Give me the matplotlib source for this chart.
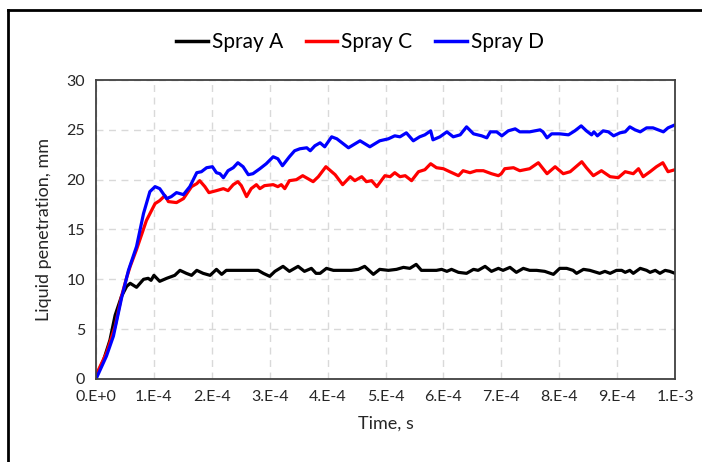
import numpy as np
import matplotlib.pyplot as plt
from matplotlib.lines import Line2D

plt.rcParams['font.family'] = ['Lato', 'DejaVu Sans']

# Spray A (time in units of 1e-4 s, penetration in mm)
t_a = [0, 0.13, 0.24, 0.33, 0.44, 0.53, 0.59, 0.70, 0.82, 0.90, 0.95, 1.0, 1.1, 1.22,
       1.36, 1.45, 1.56, 1.65, 1.74, 1.85, 1.97, 2.08, 2.17, 2.25, 2.37, 2.48, 2.60,
       2.68, 2.80, 2.89, 3.0, 3.09, 3.23, 3.34, 3.49, 3.60, 3.72, 3.80, 3.87, 3.98,
       4.10, 4.27, 4.41, 4.53, 4.64, 4.79, 4.90, 5.05, 5.19, 5.31, 5.42, 5.53, 5.62,
       5.77, 5.88, 5.97, 6.06, 6.14, 6.26, 6.40, 6.52, 6.60, 6.72, 6.83, 6.95, 7.03,
       7.15, 7.26, 7.38, 7.49, 7.61, 7.75, 7.90, 8.01, 8.13, 8.24, 8.30, 8.42, 8.53,
       8.70, 8.79, 8.88, 8.99, 9.08, 9.14, 9.22, 9.28, 9.40, 9.51, 9.57, 9.66, 9.74,
       9.83, 9.91, 10.0]
y_a = [0.2, 1.9, 3.9, 6.4, 8.3, 9.3, 9.6, 9.2, 10.0, 10.1, 9.9, 10.4, 9.8, 10.1,
       10.4, 10.9, 10.6, 10.4, 10.9, 10.6, 10.4, 11.0, 10.5, 10.9, 10.9, 10.9, 10.9,
       10.9, 10.9, 10.6, 10.3, 10.8, 11.3, 10.8, 11.3, 10.8, 11.1, 10.6, 10.6, 11.1,
       10.9, 10.9, 10.9, 11.0, 11.3, 10.5, 11.0, 10.9, 11.0, 11.2, 11.1, 11.5, 10.9,
       10.9, 10.9, 11.0, 10.8, 11.0, 10.7, 10.6, 11.0, 10.9, 11.3, 10.8, 11.1, 10.9,
       11.2, 10.7, 11.1, 10.9, 10.9, 10.8, 10.5, 11.1, 11.1, 10.9, 10.6, 11.0, 10.9,
       10.6, 10.8, 10.6, 10.9, 10.9, 10.7, 10.9, 10.6, 11.1, 10.9, 10.7, 10.9, 10.6,
       10.9, 10.8, 10.6]

# Spray C
t_c = [0, 0.18, 0.33, 0.44, 0.53, 0.59, 0.70, 0.87, 1.02, 1.10, 1.19, 1.25, 1.39,
       1.51, 1.65, 1.74, 1.79, 1.88, 1.95, 2.08, 2.20, 2.28, 2.37, 2.45, 2.51, 2.60,
       2.68, 2.77, 2.83, 2.91, 3.06, 3.14, 3.20, 3.26, 3.34, 3.46, 3.57, 3.66, 3.75,
       3.84, 3.97, 4.07, 4.13, 4.26, 4.39, 4.47, 4.59, 4.67, 4.76, 4.85, 4.99, 5.08,
       5.16, 5.25, 5.34, 5.45, 5.57, 5.68, 5.78, 5.88, 6.00, 6.11, 6.26, 6.34, 6.46,
       6.57, 6.69, 6.83, 6.95, 7.0, 7.06, 7.21, 7.32, 7.49, 7.64, 7.79, 7.93, 8.07,
       8.19, 8.27, 8.39, 8.47, 8.59, 8.73, 8.88, 9.02, 9.14, 9.28, 9.37, 9.45, 9.57,
       9.68, 9.79, 9.88, 10.0]
y_c = [0.4, 2.6, 5.3, 8.3, 10.2, 11.3, 13.0, 15.9, 17.6, 17.9, 18.4, 17.8, 17.7,
       18.1, 19.3, 19.6, 19.9, 19.3, 18.7, 18.9, 19.1, 18.9, 19.5, 19.8, 19.4, 18.3,
       19.1, 19.5, 19.1, 19.4, 19.5, 19.3, 19.5, 19.1, 19.9, 20.0, 20.4, 20.1, 19.8,
       20.3, 21.3, 20.8, 20.5, 19.5, 20.3, 19.9, 20.3, 19.8, 19.9, 19.3, 20.4, 20.3,
       20.7, 20.3, 20.4, 19.9, 20.8, 21.0, 21.6, 21.2, 21.1, 20.8, 20.4, 20.9, 20.7,
       20.9, 20.9, 20.6, 20.4, 20.6, 21.1, 21.2, 20.9, 21.1, 21.7, 20.6, 21.3, 20.6,
       20.8, 21.2, 21.8, 21.2, 20.4, 20.9, 20.3, 20.2, 20.8, 20.6, 21.1, 20.3, 20.8,
       21.3, 21.7, 20.8, 21.0]

# Spray D
t_d = [0, 0.18, 0.30, 0.44, 0.56, 0.70, 0.82, 0.93, 1.02, 1.10, 1.22, 1.30, 1.39,
       1.51, 1.62, 1.74, 1.82, 1.91, 2.01, 2.08, 2.14, 2.20, 2.28, 2.37, 2.45, 2.54,
       2.63, 2.71, 2.83, 2.94, 3.06, 3.14, 3.22, 3.34, 3.43, 3.52, 3.64, 3.70, 3.78,
       3.87, 3.95, 4.07, 4.16, 4.36, 4.56, 4.73, 4.90, 5.05, 5.16, 5.25, 5.36, 5.48,
       5.59, 5.68, 5.78, 5.82, 5.94, 6.06, 6.17, 6.29, 6.40, 6.52, 6.66, 6.75, 6.81,
       6.92, 7.01, 7.12, 7.24, 7.32, 7.49, 7.67, 7.72, 7.79, 7.87, 8.01, 8.16, 8.27,
       8.38, 8.47, 8.56, 8.60, 8.66, 8.76, 8.85, 8.94, 9.05, 9.14, 9.22, 9.31, 9.40,
       9.51, 9.62, 9.71, 9.80, 9.88, 10.0]
y_d = [0.0, 2.3, 4.3, 8.1, 10.9, 13.3, 16.6, 18.8, 19.3, 19.1, 18.1, 18.3, 18.7,
       18.5, 19.3, 20.7, 20.8, 21.2, 21.3, 20.7, 20.6, 20.2, 20.9, 21.2, 21.7, 21.3,
       20.5, 20.6, 21.1, 21.6, 22.3, 22.1, 21.4, 22.3, 22.9, 23.1, 23.2, 22.9, 23.4,
       23.7, 23.3, 24.3, 24.1, 23.2, 23.9, 23.3, 23.9, 24.1, 24.4, 24.3, 24.7, 23.9,
       24.3, 24.5, 24.9, 24.0, 24.3, 24.8, 24.3, 24.5, 25.3, 24.6, 24.4, 24.2, 24.8,
       24.8, 24.4, 24.9, 25.1, 24.8, 24.8, 25.0, 24.8, 24.2, 24.6, 24.6, 24.5, 24.9,
       25.4, 24.9, 24.5, 24.8, 24.4, 24.9, 24.8, 24.4, 24.7, 24.8, 25.3, 25.0, 24.8,
       25.2, 25.2, 25.0, 24.8, 25.2, 25.5]

labels = ['Spray A', 'Spray C', 'Spray D']
colors = ['black', 'red', 'blue']

fig = plt.figure(figsize=(7.02, 4.62), dpi=100)
ax = fig.add_axes([0.1368, 0.1797, 0.8247, 0.6471])

for t, y, c, lab in zip([t_a, t_c, t_d], [y_a, y_c, y_d], colors, labels):
    ax.plot(np.array(t) * 1e-4, y, color=c, lw=2.3, label=lab,
            solid_joinstyle='round', solid_capstyle='round')

ax.set_xlim(0, 1e-3)
ax.set_ylim(0, 30)
xt = np.arange(0, 11) * 1e-4
ax.set_xticks(xt)
ax.set_xticklabels(['0.E+0'] + [f'{i}.E-4' for i in range(1, 10)] + ['1.E-3'])
ax.set_yticks(np.arange(0, 31, 5))
ax.tick_params(length=0, labelsize=11.5, colors='#262626', pad=8)
ax.grid(True, color='#d9d9d9', ls=(0, (5, 4)), lw=1.0)
for s in ax.spines.values():
    s.set_color('#404040')
    s.set_linewidth(1.3)

ax.set_xlabel('Time, s', fontsize=13, color='#262626', labelpad=8)
ax.set_ylabel('Liquid penetration, mm', fontsize=13, color='#262626', labelpad=10)

handles = [Line2D([], [], color=c, lw=2.5) for c in colors]
fig.legend(handles, labels, loc='center', bbox_to_anchor=(0.513, 0.909), ncol=3,
           frameon=False, fontsize=15, handlelength=1.5, handletextpad=0.2,
           columnspacing=1.1)

# outer border (only left and top edges visible)
fig.add_artist(Line2D([0.0114, 0.0114], [0, 0.978], transform=fig.transFigure,
                      color='black', lw=2))
fig.add_artist(Line2D([0.0114, 1.0], [0.978, 0.978], transform=fig.transFigure,
                      color='black', lw=2))

fig.savefig('out.png', dpi=100)
